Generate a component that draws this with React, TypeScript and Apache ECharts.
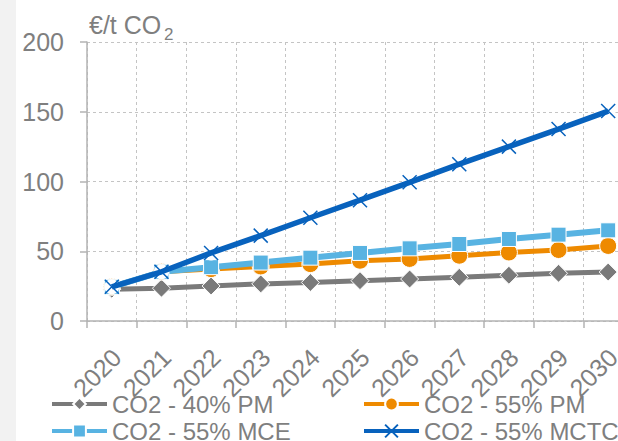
import React, { useEffect, useRef } from "react";
import * as echarts from "echarts";

const years = ["2020", "2021", "2022", "2023", "2024", "2025", "2026", "2027", "2028", "2029", "2030"];
const pm40 = [22.8, 23.5, 25.1, 26.6, 27.6, 28.9, 30.1, 31.3, 32.8, 34.2, 35.1];
const pm55 = [24.5, 35.3, 37.2, 39.1, 40.8, 43.2, 44.5, 46.8, 49.1, 50.9, 53.8];
const mce55 = [24.5, 35.3, 38.6, 41.9, 45.4, 48.8, 52.1, 55.2, 58.8, 61.9, 65.0];
const mctc55 = [24.5, 35.3, 48.8, 61.2, 74.0, 86.6, 99.4, 112.4, 125.0, 137.6, 150.5];
const seriesNames = ["CO2 - 40% PM", "CO2 - 55% PM", "CO2 - 55% MCE", "CO2 - 55% MCTC"];
const yTicks = [0, 50, 100, 150, 200];

const FONT = "'Liberation Sans', Arial, sans-serif";
const TXT = "#7f7f7f";

export default function App() {
  const ref = useRef<HTMLDivElement>(null);
  useEffect(() => {
    if (!ref.current) return;
    const chart = echarts.init(ref.current, null, { renderer: "svg" });
    const cGray = "#7a7a7a";
    const cOrange = "#ee8a00";
    const cLight = "#58b3e2";
    const cDark = "#0862bd";
    const legendCommon = {
      top: 392,
      orient: "vertical",
      padding: 0,
      itemWidth: 55,
      itemHeight: 16,
      itemGap: 3,
      lineStyle: { width: 4 },
      textStyle: { fontSize: 24, color: TXT, fontFamily: FONT },
    };
    chart.setOption({
      animation: false,
      backgroundColor: "#ffffff",
      textStyle: { fontFamily: FONT },
      graphic: [
        { type: "rect", shape: { x: 0, y: 0, width: 16, height: 470 }, style: { fill: "#f2f2f2" }, z: -1 },
        {
          type: "text",
          left: 89,
          top: 12,
          style: { text: "€/t CO", fontSize: 25, fontFamily: FONT, fill: TXT },
        },
        {
          type: "text",
          left: 164,
          top: 26,
          style: { text: "2", fontSize: 17, fontFamily: FONT, fill: TXT },
        },
      ],
      grid: { left: 87, top: 42, height: 279, width: 546, containLabel: false },
      xAxis: {
        type: "category",
        data: years,
        boundaryGap: true,
        axisLine: { show: true, lineStyle: { color: "#b3b3b3", width: 1.5 } },
        axisTick: { show: true, length: 7, alignWithLabel: false, lineStyle: { color: "#b3b3b3", width: 1.5 } },
        splitLine: { show: true, lineStyle: { color: "#c4c4c4", type: [3, 3], width: 1 } },
        axisLabel: {
          rotate: 45,
          fontSize: 25,
          color: TXT,
          margin: 27,
          lineHeight: 14,
          verticalAlign: "top",
          fontFamily: FONT,
          interval: 0,
        },
      },
      yAxis: {
        type: "value",
        min: yTicks[0],
        max: yTicks[yTicks.length - 1],
        interval: 50,
        axisLine: { show: true, lineStyle: { color: "#b3b3b3", width: 1.5 } },
        axisTick: { show: true, length: 7, lineStyle: { color: "#b3b3b3", width: 1.5 } },
        splitLine: { show: true, lineStyle: { color: "#c4c4c4", type: [3, 3], width: 1 } },
        axisLabel: { fontSize: 25, color: TXT, margin: 23, fontFamily: FONT },
      },
      legend: [
        { ...legendCommon, left: 50, data: [seriesNames[0], seriesNames[2]] },
        { ...legendCommon, left: 362, data: [seriesNames[1], seriesNames[3]] },
      ],
      series: [
        {
          name: seriesNames[0],
          type: "line",
          data: pm40,
          z: 2,
          symbol: "diamond",
          symbolSize: 18,
          lineStyle: { color: cGray, width: 5 },
          itemStyle: { color: cGray, borderColor: "#ffffff", borderWidth: 1 },
        },
        {
          name: seriesNames[1],
          type: "line",
          data: pm55,
          z: 3,
          symbol: "circle",
          symbolSize: 17,
          lineStyle: { color: cOrange, width: 5 },
          itemStyle: { color: cOrange, borderColor: "#ffffff", borderWidth: 1 },
        },
        {
          name: seriesNames[2],
          type: "line",
          data: mce55,
          z: 4,
          symbol: "rect",
          symbolSize: 15,
          lineStyle: { color: cLight, width: 6 },
          itemStyle: { color: cLight, borderColor: "#ffffff", borderWidth: 1 },
        },
        {
          name: "halo",
          type: "line",
          data: mctc55,
          z: 5,
          symbol: "circle",
          symbolSize: 15,
          showSymbol: true,
          lineStyle: { width: 0, opacity: 0 },
          itemStyle: { color: "#ffffff", borderWidth: 0 },
          silent: true,
        },
        {
          name: seriesNames[3],
          type: "line",
          data: mctc55,
          z: 6,
          symbol: "path://M0,0L10,10M10,0L0,10",
          symbolSize: 14,
          lineStyle: { color: cDark, width: 5.5 },
          itemStyle: { color: cDark, borderColor: cDark, borderWidth: 1.5 },
        },
      ],
    });
    return () => chart.dispose();
  }, []);
  return (
    <div style={{ position: "fixed", left: 0, top: 0, width: 618, height: 441, overflow: "hidden", background: "#fff" }}>
      <div ref={ref} style={{ width: 660, height: 470 }} />
    </div>
  );
}
